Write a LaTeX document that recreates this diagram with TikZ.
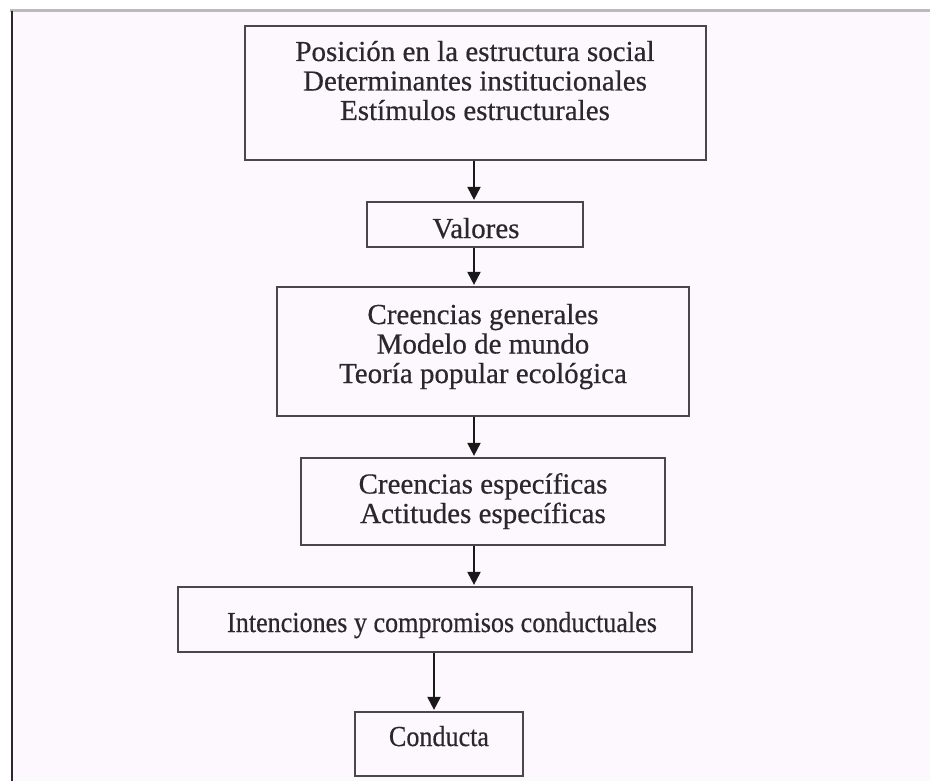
\documentclass[tikz,border=0pt]{standalone}
\usepackage{fontspec}
\setmainfont{Liberation Serif}
\newfontfamily\stagefont{Liberation Serif}[FakeBold=0.5]
\usetikzlibrary{arrows.meta}
\definecolor{pagebg}{HTML}{FDF8FD}
\definecolor{boxline}{HTML}{4A464A}
\definecolor{inkgray}{HTML}{2A282A}
\definecolor{rulegray}{HTML}{BBBBBB}
\tikzset{
  stagebox/.style={draw=boxline, line width=2.2pt, inner sep=0pt},
  stagetext/.style={text=inkgray, align=center, inner sep=0pt, anchor=base,
    font=\stagefont\fontsize{29}{29.5}\selectfont},
  flowarrow/.style={draw=black!90, line width=2pt,
    -{Triangle[width=13pt,length=13pt]}, shorten >=1pt},
}
\begin{document}
\begin{tikzpicture}[x=1pt,y=-1pt]
  % canvas and page frame
  \useasboundingbox (0,0) rectangle (930,781);
  \fill[white] (0,0) rectangle (930,781);
  \fill[pagebg] (12,12) rectangle (930,781);
  \draw[rulegray, line width=3pt] (10,11) -- (930,11);
  \draw[inkgray, line width=2pt] (12,11) -- (12,781);

  % boxes
  \node[stagebox, minimum width=461pt, minimum height=134pt] (b1) at (475.5,93) {};
  \node[stagebox, minimum width=216pt, minimum height=45pt]  (b2) at (475,224.5) {};
  \node[stagebox, minimum width=412pt, minimum height=129pt] (b3) at (483,351.5) {};
  \node[stagebox, minimum width=364pt, minimum height=87pt]  (b4) at (483,501.5) {};
  \node[stagebox, minimum width=514pt, minimum height=65pt]  (b5) at (435,619.5) {};
  \node[stagebox, minimum width=168pt, minimum height=64pt]  (b6) at (439,744) {};

  % box texts (anchored at the baseline of the last line)
  \node[stagetext] (t1) at (475,120) {Posición en la estructura social\\Determinantes institucionales\\Estímulos estructurales};
  \node[stagetext] (t2) at (476,238) {Valores};
  \node[stagetext] (t3) at (483,383) {Creencias generales\\Modelo de mundo\\Teoría popular ecológica};
  \node[stagetext] (t4) at (483,523) {Creencias específicas\\Actitudes específicas};
  \node[stagetext] (t5) at (442,632) {\scalebox{0.9}[1]{Intenciones y compromisos conductuales}};
  \node[stagetext] (t6) at (439,746) {\scalebox{0.9}[1]{Conducta}};

  % arrow columns
  \coordinate (ax) at (474,0);
  \coordinate (bx) at (434,0);

  % connectors
  \draw[flowarrow] (b1.south -| ax) -- (b2.north -| ax);
  \draw[flowarrow] (b2.south -| ax) -- (b3.north -| ax);
  \draw[flowarrow] (b3.south -| ax) -- (b4.north -| ax);
  \draw[flowarrow] (b4.south -| ax) -- (b5.north -| ax);
  \draw[flowarrow] (b5.south -| bx) -- (b6.north -| bx);
\end{tikzpicture}
\end{document}
